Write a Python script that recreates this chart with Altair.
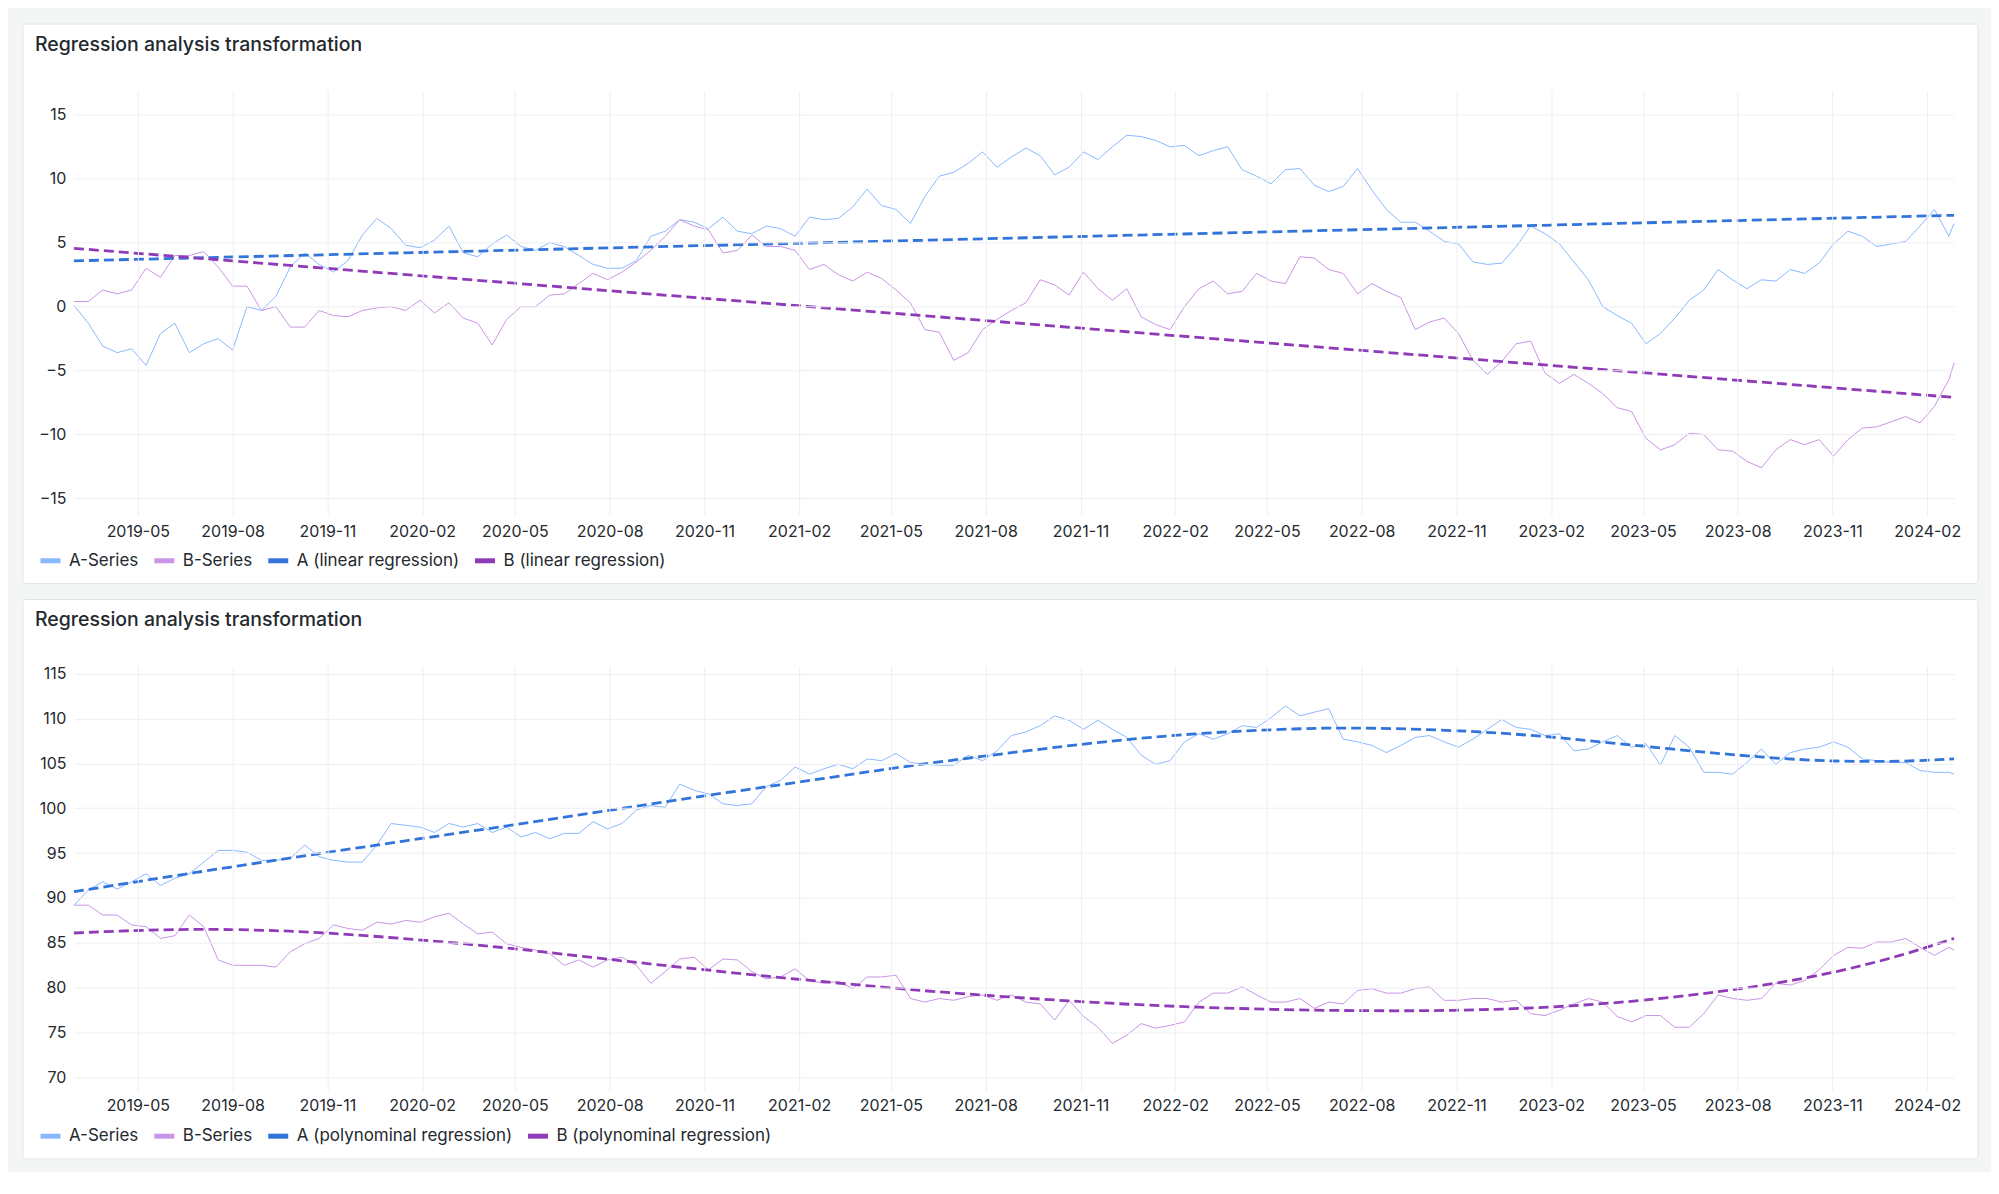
import altair as alt
import pandas as pd

TITLE = "Regression analysis transformation"
START = "2019-02-28"
# sample dates: every 14 days, plus the final timestamp
DATES = list(pd.date_range(START, periods=131, freq="14D").strftime("%Y-%m-%d")) + ["2024-02-27"]

SERIES = ["A-Series", "B-Series"]
LABELS_1 = SERIES + ["A (linear regression)", "B (linear regression)"]
LABELS_2 = SERIES + ["A (polynominal regression)", "B (polynominal regression)"]
COLORS = ["#8AB8FF", "#CA95E5", "#3274D9", "#8F3BB8"]

# ---- Panel 1 values ----
A1 = [0.1, -1.3, -3.1, -3.6, -3.3, -4.6, -2.1, -1.3, -3.6, -2.9, -2.5, -3.4, 0.0, -0.3, 0.8, 3.1,
      4.2, 3.3, 2.7, 3.6, 5.6, 6.9, 6.1, 4.8, 4.6, 5.2, 6.3, 4.2, 3.9, 4.9, 5.6, 4.7, 4.4,
      5.0, 4.7, 4.0, 3.3, 3.0, 3.0, 3.6, 5.5, 5.9, 6.8, 6.6, 6.1, 7.0, 5.9, 5.7, 6.3, 6.1,
      5.5, 7.0, 6.8, 6.9, 7.8, 9.2, 7.9, 7.6, 6.5, 8.6, 10.2, 10.5, 11.2, 12.1, 10.9, 11.7,
      12.4, 11.8, 10.3, 10.9, 12.1, 11.5, 12.5, 13.4, 13.3, 13.0, 12.5, 12.6, 11.8, 12.2, 12.5,
      10.7, 10.2, 9.6, 10.7, 10.8, 9.5, 9.0, 9.4, 10.8, 9.1, 7.6, 6.6, 6.6, 5.9, 5.1, 4.9, 3.5,
      3.3, 3.4, 4.7, 6.3, 5.7, 4.9, 3.5, 2.1, 0.0, -0.7, -1.3, -2.9, -2.1, -0.9, 0.5, 1.3, 2.9,
      2.1, 1.4, 2.1, 2.0, 2.9, 2.6, 3.4, 4.9, 5.9, 5.5, 4.7, 4.9, 5.1, 6.3, 7.6, 5.5, 6.5]
B1 = [0.4, 0.4, 1.3, 1.0, 1.3, 3.0, 2.3, 4.0, 4.0, 4.3, 3.1, 1.6, 1.6, -0.3, 0.0, -1.6, -1.6,
      -0.3, -0.7, -0.8, -0.3, -0.1, 0.0, -0.3, 0.5, -0.5, 0.3, -0.9, -1.3, -3.0, -1.0, 0.0, 0.0,
      0.9, 1.0, 1.8, 2.6, 2.1, 2.7, 3.5, 4.4, 5.5, 6.8, 6.3, 6.0, 4.2, 4.4, 5.6, 4.7, 4.7, 4.4,
      2.9, 3.3, 2.5, 2.0, 2.7, 2.2, 1.3, 0.3, -1.8, -2.0, -4.2, -3.6, -1.8, -1.0, -0.3,
      0.3, 2.1, 1.7, 0.9, 2.7, 1.4, 0.5, 1.4, -0.8, -1.4, -1.8, 0.0, 1.4, 2.0, 1.0, 1.2, 2.6,
      2.0, 1.8, 3.9, 3.8, 2.9, 2.6, 1.0, 1.8, 1.2, 0.7, -1.8, -1.2, -0.9, -2.1, -4.2,
      -5.3, -4.3, -2.9, -2.7, -5.2, -6.0, -5.3, -6.0, -6.8, -7.9, -8.2, -10.3, -11.2, -10.8,
      -9.9, -10.0, -11.2, -11.3, -12.1, -12.6, -11.2, -10.4, -10.8, -10.4, -11.7, -10.4, -9.5,
      -9.4, -9.0, -8.6, -9.1, -7.8, -5.7, -4.4]

# ---- Panel 2 values ----
A2 = [89.2, 90.9, 91.8, 91.0, 91.8, 92.7, 91.4, 92.2, 92.7, 94.0, 95.3, 95.3, 95.1, 94.2, 94.2,
      94.4, 95.9, 94.6, 94.2, 94.0, 94.0, 95.9, 98.3, 98.1, 97.9, 97.3, 98.3, 97.9, 98.3, 97.3,
      97.9, 96.8, 97.3,
      96.6, 97.2, 97.2, 98.5, 97.7, 98.3, 99.8, 100.3, 100.1, 102.7, 102.0, 101.6, 100.5, 100.3,
      100.5, 102.4, 103.1, 104.6, 103.8, 104.4, 104.9, 104.4, 105.5, 105.3, 106.1, 105.1, 104.9,
      104.8, 104.8, 105.9, 105.3, 106.4, 108.1,
      108.5, 109.2, 110.3, 109.8, 108.8, 109.8, 108.8, 107.9, 105.9, 104.9, 105.3, 107.4, 108.3,
      107.7, 108.3, 109.2, 109.0, 110.1, 111.4, 110.3, 110.7, 111.1, 107.7, 107.4, 107.0, 106.2,
      107.0, 107.9, 108.1, 107.4, 106.8, 107.7,
      108.8, 109.9, 109.0, 108.8, 108.1, 108.3, 106.4, 106.6, 107.4, 108.1, 106.8, 107.2, 104.8,
      108.1, 106.8, 104.0, 104.0, 103.8, 105.1, 106.6, 104.9, 106.2, 106.6, 106.8, 107.4, 106.8,
      105.5, 105.3, 105.1, 105.1, 104.2, 104.0, 104.0, 103.8]
B2 = [89.2, 89.2, 88.1, 88.1, 87.0, 86.8, 85.5, 85.8, 88.1, 86.8, 83.1, 82.5, 82.5, 82.5, 82.3,
      84.0, 84.9, 85.5, 87.0, 86.6, 86.4, 87.3, 87.1, 87.5, 87.3, 87.9, 88.3, 87.1, 86.0, 86.2,
      84.9, 84.5, 84.2,
      83.8, 82.5, 83.1, 82.3, 83.1, 83.4, 82.5, 80.5, 81.8, 83.2, 83.4, 82.0, 83.2, 83.1, 81.8,
      81.0, 81.2, 82.1, 80.8, 80.5, 80.7, 79.9, 81.2, 81.2, 81.4, 78.8, 78.4, 78.8, 78.6, 79.0,
      79.2, 78.6, 79.2,
      78.4, 78.2, 76.4, 78.6, 76.8, 75.6, 73.8, 74.7, 76.0, 75.5, 75.8, 76.2, 78.4, 79.4, 79.4,
      80.1, 79.2, 78.4, 78.4, 78.8, 77.7, 78.4, 78.2, 79.7, 79.9, 79.4, 79.4, 79.9, 80.1, 78.6,
      78.6, 78.8,
      78.8, 78.4, 78.6, 77.1, 76.9, 77.5, 78.2, 78.8, 78.4, 76.8, 76.2, 76.9, 76.9, 75.6, 75.6,
      77.1, 79.2, 78.8, 78.6, 78.8, 80.5, 80.3, 80.8, 82.0, 83.6, 84.5, 84.4, 85.1, 85.1, 85.5,
      84.5, 83.6, 84.5, 84.2]

# polynomial regression curves of panel 2 (days since START)
POLY_A_DAYS = [0, 115, 241, 341, 448, 539, 636, 733, 814, 904, 995, 1092, 1189, 1254, 1364,
               1451, 1548, 1645, 1710, 1775, 1825]
POLY_A = [90.7, 92.8, 95.0, 96.7, 98.5, 100.1, 101.8, 103.4, 104.8, 106.1, 107.4, 108.4, 108.9,
          109.0, 108.6, 107.8, 106.6, 105.6, 105.2, 105.2, 105.5]
POLY_B_DAYS = [0, 99, 212, 309, 390, 448, 539, 636, 733, 830, 904, 995, 1092, 1189, 1286, 1364,
               1451, 1548, 1645, 1710, 1775, 1825]
POLY_B = [86.1, 86.6, 86.4, 85.6, 84.8, 84.1, 82.9, 81.7, 80.6, 79.6, 79.0, 78.3, 77.8, 77.5,
          77.4, 77.5, 77.9, 78.8, 80.3, 81.7, 83.6, 85.5]

Y1_DOMAIN = [-16.3, 16.9]
Y1_TICKS = [-15, -10, -5, 0, 5, 10, 15]
Y2_DOMAIN = [68.55, 115.86]
Y2_TICKS = [70, 75, 80, 85, 90, 95, 100, 105, 110, 115]

W, H = 1882, 425
TXT = "#24292E"
GRID = "#EDEEF0"
FONT = "Inter"

X_TICKS = []
ym = 2019 * 12 + 4
while ym <= 2024 * 12 + 1:
    X_TICKS.append(alt.DateTime(year=ym // 12, month=ym % 12 + 1, date=1, utc=True))
    ym += 3
X_DOMAIN = [alt.DateTime(year=2019, month=2, date=28, utc=True),
            alt.DateTime(year=2024, month=2, date=27, utc=True)]

T_EXPR = "utc(2019, 1, 28) + datum.d * 86400000"


def panel(a_vals, b_vals, labels, ydom, yticks, x_pad, poly=None):
    days = [(pd.Timestamp(d) - pd.Timestamp(START)).days for d in DATES]
    df = pd.DataFrame({
        "d": days * 2,
        "value": a_vals + b_vals,
        "series": [SERIES[0]] * len(a_vals) + [SERIES[1]] * len(b_vals),
    })
    x = alt.X("t:T",
              scale=alt.Scale(type="utc", domain=X_DOMAIN, nice=False),
              axis=alt.Axis(values=X_TICKS, format="%Y-%m", title=None, domain=False,
                            ticks=False, grid=True, gridColor=GRID, labelFont=FONT,
                            labelFontSize=16, labelColor=TXT, labelPadding=x_pad,
                            labelOverlap=False, labelFlush=False, zindex=1))
    y = alt.Y("value:Q",
              scale=alt.Scale(domain=ydom, nice=False, zero=False),
              axis=alt.Axis(values=yticks, title=None, domain=False, ticks=False,
                            grid=True, gridColor=GRID, labelFont=FONT, labelFontSize=16,
                            labelColor=TXT, labelPadding=8, zindex=1))
    color = alt.Color("label:N",
                      scale=alt.Scale(domain=labels, range=COLORS),
                      legend=alt.Legend(title=None, orient="none", legendX=-36, legendY=458,
                                        direction="horizontal", symbolType="stroke",
                                        symbolSize=400, symbolStrokeWidth=5,
                                        symbolDash=[20, 0], labelFont=FONT,
                                        labelFontSize=17, labelColor=TXT, labelOffset=6,
                                        columnPadding=5, labelLimit=400, padding=0,
                                        zindex=1))
    lines = (alt.Chart(df)
             .transform_calculate(t=T_EXPR, label="datum.series")
             .mark_line(strokeWidth=1)
             .encode(x=x, y=y, color=color))
    dash = dict(strokeWidth=2.8, strokeDash=[10, 5])
    if poly is None:
        reg = (alt.Chart(df)
               .transform_regression("d", "value", groupby=["series"], method="linear")
               .transform_calculate(
                   t=T_EXPR,
                   label=f"datum.series === 'A-Series' ? '{labels[2]}' : '{labels[3]}'")
               .mark_line(**dash)
               .encode(x=x, y=y, color=color))
    else:
        ad, av, bd, bv = poly
        pdf = pd.DataFrame({"d": ad + bd, "value": av + bv,
                            "label": [labels[2]] * len(ad) + [labels[3]] * len(bd)})
        reg = (alt.Chart(pdf)
               .transform_calculate(t=T_EXPR)
               .mark_line(interpolate="basis", **dash)
               .encode(x=x, y=y, color=color))
    bg = (alt.Chart(pd.DataFrame({"k": [0]}))
          .mark_rect(fill="white", stroke="#E2E4E7", strokeWidth=1, cornerRadius=3)
          .encode(x=alt.value(-51), x2=alt.value(W + 24),
                  y=alt.value(-66.5), y2=alt.value(H + 68.5)))
    ttl = (alt.Chart(pd.DataFrame({"title": [TITLE]}))
           .mark_text(align="left", baseline="alphabetic", font=FONT, fontSize=19.5,
                      fontWeight=500, color=TXT)
           .encode(x=alt.value(-39), y=alt.value(-40), text="title:N"))
    return alt.layer(bg, ttl, lines, reg).properties(width=W, height=H)


p1 = panel(A1, B1, LABELS_1, Y1_DOMAIN, Y1_TICKS, 8)
p2 = panel(A2, B2, LABELS_2, Y2_DOMAIN, Y2_TICKS, 7,
           poly=(POLY_A_DAYS, POLY_A, POLY_B_DAYS, POLY_B))

chart = (alt.vconcat(p1, p2, spacing=15)
         .resolve_scale(color="independent")
         .properties(padding={"left": 14, "top": 15, "right": 12, "bottom": 12},
                     background="#F4F5F5")
         .configure(font=FONT, view=alt.ViewConfig(strokeWidth=0)))

chart.save("out.html", embed_options={"renderer": "svg", "actions": False})
